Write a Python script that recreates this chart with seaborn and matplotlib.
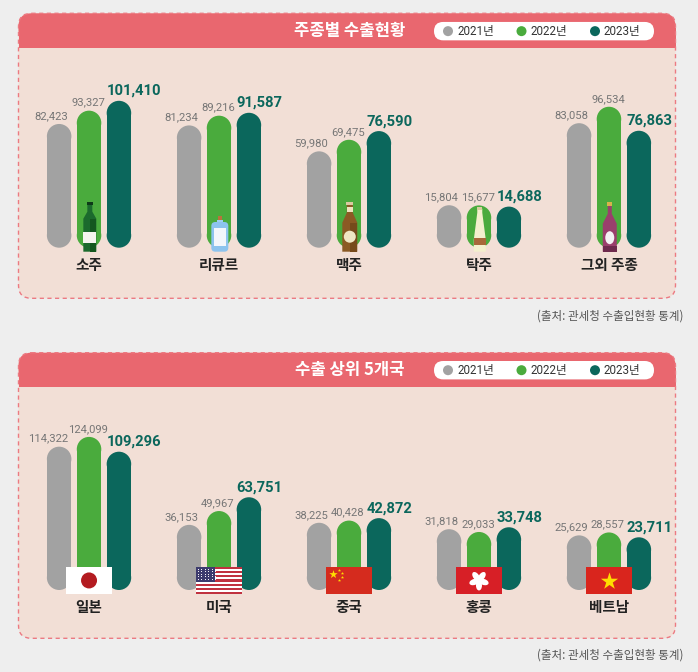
import matplotlib
matplotlib.use("Agg")
import math
import matplotlib.pyplot as plt
import matplotlib.colors as mcolors
import seaborn as sns
import pandas as pd
from matplotlib.patches import FancyBboxPatch, Rectangle, Circle, Ellipse, Polygon

# ---- data -------------------------------------------------------------
years = ["2021년", "2022년", "2023년"]

liquor_names = ["소주", "리큐르", "맥주", "탁주", "그외 주종"]
liquor_2021 = [82423, 81234, 59980, 15804, 83058]
liquor_2022 = [93327, 89216, 69475, 15677, 96534]
liquor_2023 = [101410, 91587, 76590, 14688, 76863]

country_names = ["일본", "미국", "중국", "홍콩", "베트남"]
country_2021 = [114322, 36153, 38225, 31818, 25629]
country_2022 = [124099, 49967, 40428, 29033, 28557]
country_2023 = [109296, 63751, 42872, 33748, 23711]

titles = ["주종별 수출현황", "수출 상위 5개국"]
source = "(출처: 관세청 수출입현황 통계)"

# ---- style ------------------------------------------------------------
W, H = 698, 672
BG = "#eeeeee"
PINK = "#e9676f"
BODY = "#f2dfd6"
BAR_COLORS = ["#a2a2a2", "#4aab3d", "#0b675c"]
KR = ["Noto Sans CJK KR", "DejaVu Sans"]

sns.set_style("white")
plt.rcParams["font.family"] = ["Roboto", "Noto Sans CJK KR", "DejaVu Sans"]


def long_table(names, a, b, c):
    rows = []
    for vals, yr in zip([a, b, c], years):
        for n, v in zip(names, vals):
            rows.append({"name": n, "year": yr, "value": v})
    return pd.DataFrame(rows)


fig = plt.figure(figsize=(W / 100, H / 100), dpi=100, facecolor=BG)
bg = fig.add_axes([0, 0, 1, 1])
bg.set_xlim(0, W)
bg.set_ylim(H, 0)
bg.axis("off")


def panel_frame(top, head, bottom, title, src_y):
    box = dict(boxstyle="round,pad=0,rounding_size=13")
    bg.add_patch(FancyBboxPatch((18.5, top), 657, bottom - top, fc=BODY, ec="none", **box))
    bg.add_patch(FancyBboxPatch((18.5, top), 657, 30, fc=PINK, ec="none", **box))
    bg.add_patch(Rectangle((18.5, top + 15), 657, head - top - 15, fc=PINK, ec="none"))
    bg.add_patch(FancyBboxPatch((18.5, top), 657, bottom - top, fc="none", ec="#ec7a82",
                                lw=1, ls=(0, (3, 2.5)), **box))
    cy = (top + head) / 2 + 0.5
    bg.text(350, cy, title, color="white", fontsize=12, fontweight="black", family=KR,
            ha="center", va="center")
    # legend pill
    bg.add_patch(FancyBboxPatch((434, cy - 9.2), 220, 18.4,
                                boxstyle="round,pad=0,rounding_size=9.2", fc="white", ec="none"))
    for k, yr in enumerate(years):
        dx = 448 + 73.5 * k
        bg.add_patch(Circle((dx, cy), 5, fc=BAR_COLORS[k], ec="none"))
        bg.text(dx + 9, cy, yr, fontsize=8.4, color="#333333", ha="left", va="center")
    bg.text(683, src_y, source, fontsize=8.3, color="#555555", family=KR, ha="right", va="center")


panel_frame(13.3, 48, 298.3, titles[0], 316)
panel_frame(352.7, 386.7, 638.3, titles[1], 655)


def bar_panel(base_px, top_px, names, a, b, c, ylo, ppk):
    rect = [0, 1 - base_px / H, 1, (base_px - top_px) / H]
    ax = fig.add_axes(rect)
    df = long_table(names, a, b, c)
    sns.barplot(data=df, x="name", y="value", hue="year", order=names, hue_order=years,
                palette=BAR_COLORS, saturation=1, width=0.69, gap=0.18, errorbar=None,
                legend=False, ax=ax)
    ax.set_xlim(-0.685, 4.685)
    hpx = base_px - top_px
    ax.set_ylim(ylo, ylo + hpx / ppk * 1000)
    ax.axis("off")
    x0, x1 = ax.get_xlim()
    y0, y1 = ax.get_ylim()
    aspect = ((y1 - y0) / hpx) / ((x1 - x0) / W)
    hexes = [mcolors.to_hex(c_) for c_ in BAR_COLORS]
    for bar in list(ax.patches):
        k = hexes.index(mcolors.to_hex(bar.get_facecolor()))
        bx, bw, h = bar.get_x(), bar.get_width(), bar.get_height()
        bar.set_visible(False)
        ry = bw / 2 * aspect
        col = BAR_COLORS[k]
        ax.add_patch(Rectangle((bx, y0 + ry), bw, h - y0 - 2 * ry, fc=col, ec="none"))
        ax.add_patch(Ellipse((bx + bw / 2, h - ry), bw, 2 * ry, fc=col, ec="none"))
        ax.add_patch(Ellipse((bx + bw / 2, y0 + ry), bw, 2 * ry, fc=col, ec="none"))
        if k == 0:
            xy, ha, dx = (bx + bw, h), "right", -3
        elif k == 1:
            xy, ha, dx = (bx + bw / 2, h), "center", -1
        else:
            xy, ha, dx = (bx, h), "left", 0
        if k < 2:
            ax.annotate(f"{h:,.0f}", xy, xytext=(dx, 5), textcoords="offset pixels",
                        ha=ha, va="baseline", fontsize=8.1, color="#767676",
                        annotation_clip=False)
        else:
            ax.annotate(f"{h:,.0f}", xy, xytext=(dx, 6), textcoords="offset pixels",
                        ha=ha, va="baseline", fontsize=10.6, fontweight="bold",
                        color=BAR_COLORS[2], annotation_clip=False)
    for i, n in enumerate(names):
        ax.annotate(n, (i, y0), xytext=(0, -17), textcoords="offset pixels", ha="center",
                    va="center", fontsize=10.5, fontweight="black", family=KR,
                    color="#222222", annotation_clip=False)
    return ax


ax1 = bar_panel(247.7, 60, liquor_names, liquor_2021, liquor_2022, liquor_2023, -19000, 1.22)
ax2 = bar_panel(590, 400, country_names, country_2021, country_2022, country_2023, -29000, 1.0)

# ---- icons (overlay) ----------------------------------------------------
fg = fig.add_axes([0, 0, 1, 1])
fg.set_xlim(0, W)
fg.set_ylim(H, 0)
fg.axis("off")


def centers(ax, n):
    out = []
    for i in range(n):
        px = ax.transData.transform((i, ax.get_ylim()[0]))
        out.append(fg.transData.inverted().transform(px))
    return out


def add(p):
    fg.add_patch(p)


def soju(cx, b):
    add(Polygon([(cx - 6.5, b), (cx - 6.5, b - 33), (cx - 2.5, b - 40), (cx - 2.5, b - 48),
                 (cx + 2.5, b - 48), (cx + 2.5, b - 40), (cx + 6.5, b - 33), (cx + 6.5, b)],
                fc="#1b6a2d", ec="none"))
    add(Rectangle((cx, b - 33), 6.5, 33, fc="#14571f", ec="none"))
    add(Rectangle((cx - 3, b - 49.5), 6, 3, fc="#0e3a19", ec="none"))
    add(Rectangle((cx - 6.5, b - 20), 13, 11, fc="#f4f4ee", ec="none"))


def liqueur(cx, b):
    add(Rectangle((cx - 2, b - 36), 4, 5, fc="#b8733c", ec="none"))
    add(Rectangle((cx - 3, b - 32), 6, 3, fc="#9fcdf0", ec="none"))
    add(FancyBboxPatch((cx - 8.5, b - 29.7), 17, 29.7, boxstyle="round,pad=0,rounding_size=4",
                       fc="#8cc3ee", ec="none"))
    add(Rectangle((cx - 6, b - 24), 12, 18, fc="#f2f6fb", ec="none"))


def beer(cx, b):
    add(Polygon([(cx - 7.5, b), (cx - 7.5, b - 29), (cx - 3, b - 39), (cx - 3, b - 48),
                 (cx + 3, b - 48), (cx + 3, b - 39), (cx + 7.5, b - 29), (cx + 7.5, b)],
                fc="#8b5a24", ec="none"))
    add(Rectangle((cx, b - 29), 7.5, 29, fc="#764a1b", ec="none"))
    add(Rectangle((cx - 3.5, b - 50), 7, 3, fc="#d9c9a0", ec="none"))
    add(Rectangle((cx - 3, b - 45), 6, 5, fc="#efe3bf", ec="none"))
    add(Circle((cx, b - 15), 6, fc="#efe6c4", ec="none"))


def makgeolli(cx, b):
    add(Polygon([(cx - 6, b), (cx - 6, b - 12), (cx - 2.5, b - 39), (cx - 2.5, b - 43),
                 (cx + 2.5, b - 43), (cx + 2.5, b - 39), (cx + 6, b - 12), (cx + 6, b)],
                fc="#f3efcd", ec="none"))
    add(Rectangle((cx - 2.5, b - 45), 5, 3, fc="#d8cf9e", ec="none"))
    add(Rectangle((cx - 6, b - 13.5), 12, 6.5, fc="#a7683a", ec="none"))


def wine(cx, b):
    add(Polygon([(cx - 7, b), (cx - 7, b - 28), (cx - 2, b - 38), (cx - 2, b - 46),
                 (cx + 2, b - 46), (cx + 2, b - 38), (cx + 7, b - 28), (cx + 7, b)],
                fc="#9a3f6c", ec="none"))
    add(Rectangle((cx - 2.5, b - 49.5), 5, 4, fc="#d7b24b", ec="none"))
    add(Ellipse((cx, b - 14), 9, 13, fc="#f4f1f4", ec="none"))
    add(Rectangle((cx - 7, b - 5.7), 14, 5.7, fc="#6e2a4d", ec="none"))


for (cx, by), f in zip(centers(ax1, 5), [soju, liqueur, beer, makgeolli, wine]):
    f(cx + 0.8, by + 4)

FW, FH = 46, 27.5


def flag_japan(x0, t):
    add(Rectangle((x0, t), FW, FH, fc="white", ec="none"))
    add(Circle((x0 + FW / 2, t + FH / 2), 8, fc="#b31b20", ec="none"))


def flag_us(x0, t):
    for i in range(13):
        add(Rectangle((x0, t + i * FH / 13), FW, FH / 13,
                      fc="#c0313f" if i % 2 == 0 else "white", ec="none"))
    add(Rectangle((x0, t), FW * 0.42, FH * 7 / 13, fc="#3c3b6e", ec="none"))
    xs = [x0 + 2 + 3.4 * j for j in range(6)]
    ys = [t + 1.8 + 2.6 * r for r in range(5)]
    fg.scatter([x for x in xs for _ in ys], [y for _ in xs for y in ys], s=0.5, c="white",
               linewidths=0)


def flag_china(x0, t):
    add(Rectangle((x0, t), FW, FH, fc="#d52b1e", ec="none"))
    fg.scatter([x0 + 7], [t + 7], marker="*", s=40, c="#ffde00", linewidths=0)
    fg.scatter([x0 + 13, x0 + 15.5, x0 + 15.5, x0 + 13], [t + 3, t + 6, t + 10, t + 13],
               marker="*", s=6, c="#ffde00", linewidths=0)


def flag_hk(x0, t):
    add(Rectangle((x0, t), FW, FH, fc="#d71f26", ec="none"))
    cx, cy = x0 + FW / 2, t + FH / 2
    for k in range(5):
        a = math.radians(90 + 72 * k)
        add(Ellipse((cx + 5 * math.cos(a), cy + 5 * math.sin(a)), 10, 6,
                    angle=math.degrees(a), fc="white", ec="none"))


def flag_vietnam(x0, t):
    add(Rectangle((x0, t), FW, FH, fc="#d9251d", ec="none"))
    fg.scatter([x0 + FW / 2], [t + FH / 2 + 0.5], marker="*", s=170, c="#ffdd00", linewidths=0)


for (cx, by), f in zip(centers(ax2, 5),
                       [flag_japan, flag_us, flag_china, flag_hk, flag_vietnam]):
    f(cx - FW / 2, by - 23.3)

fig.savefig("out.png", dpi=100, facecolor=BG)
